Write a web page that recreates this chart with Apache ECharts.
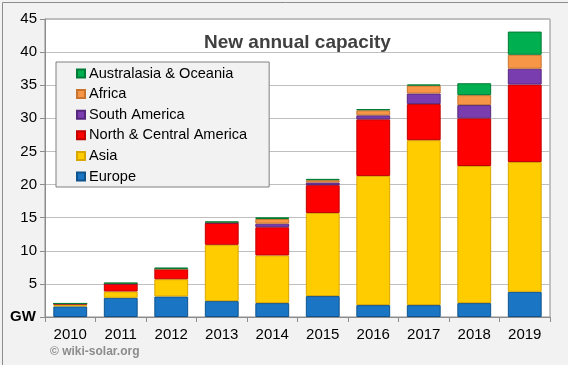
<!DOCTYPE html>
<html>
<head>
<meta charset="utf-8">
<script src="https://cdn.jsdelivr.net/npm/echarts@6/dist/echarts.min.js"></script>
<style>
  html, body { margin: 0; padding: 0; background: #f2f2f2; }
  #chart { width: 568px; height: 365px; }
</style>
</head>
<body>
<div id="chart"></div>
<script>
// 数据（GW，从图上读出）
const years = ['2010', '2011', '2012', '2013', '2014', '2015', '2016', '2017', '2018', '2019']
const europe = [1.6, 2.9, 3.1, 2.4, 2.1, 3.16, 1.8, 1.8, 2.1, 3.8]
const asia = [0.25, 0.95, 2.6, 8.5, 7.2, 12.55, 19.5, 24.9, 20.7, 19.6]
const northCentralAmerica = [0.15, 1.17, 1.5, 3.3, 4.25, 4.2, 8.55, 5.45, 7.2, 11.7]
const southAmerica = [0, 0.02, 0.02, 0.05, 0.55, 0.4, 0.6, 1.6, 2.0, 2.4]
const africa = [0.02, 0.03, 0.05, 0.05, 0.7, 0.35, 0.76, 1.2, 1.5, 2.1]
const australasia = [0.05, 0.1, 0.2, 0.1, 0.25, 0.2, 0.2, 0.15, 1.8, 3.5]

const chart = echarts.init(document.getElementById('chart'))

function makeSeries (name, data, color, border) {
  return {
    name: name,
    type: 'bar',
    stack: 'total',
    barCategoryGap: '33%',
    data: data,
    itemStyle: {
      color: color,
      borderColor: border,
      borderWidth: 1
    }
  }
}

const option = {
  animation: false,
  backgroundColor: '#f2f2f2',
  title: {
    text: 'New annual capacity',
    left: 199,
    top: 28,
    textStyle: {
      fontFamily: 'Liberation Sans, Arial',
      fontSize: 19,
      fontWeight: 'bold',
      color: '#404040'
    }
  },
  grid: {
    left: 45,
    right: 18,
    top: 19,
    bottom: 48,
    show: true,
    backgroundColor: '#ffffff',
    borderColor: '#8c8c8c',
    borderWidth: 1
  },
  legend: {
    orient: 'vertical',
    left: 56,
    top: 62,
    data: ['Australasia & Oceania', 'Africa', 'South America', 'North & Central America', 'Asia', 'Europe'],
    icon: 'rect',
    itemWidth: 8,
    itemHeight: 8,
    itemGap: 5.6,
    padding: [4, 22, 3, 20],
    backgroundColor: '#f2f2f2',
    borderColor: '#808080',
    borderWidth: 1,
    textStyle: {
      fontFamily: 'Liberation Sans, Arial',
      fontSize: 14.6,
      color: '#000',
      padding: [0, 0, 0, -1]
    }
  },
  xAxis: {
    type: 'category',
    data: years,
    axisLine: { lineStyle: { color: '#8c8c8c' } },
    axisTick: { show: true, length: 5, lineStyle: { color: '#8c8c8c' } },
    axisLabel: {
      margin: 10,
      fontFamily: 'Liberation Sans, Arial',
      fontSize: 15,
      color: '#000'
    }
  },
  yAxis: {
    type: 'value',
    min: 0,
    max: 45,
    interval: 5,
    axisLine: { show: true, lineStyle: { color: '#8c8c8c' } },
    axisTick: { show: true, length: 5, lineStyle: { color: '#8c8c8c' } },
    splitLine: { lineStyle: { color: '#bfbfbf' } },
    axisLabel: {
      margin: 8,
      fontFamily: 'Liberation Sans, Arial',
      fontSize: 15,
      color: '#000',
      formatter: function (v) { return v === 0 ? '' : v }
    }
  },
  graphic: [
    {
      type: 'text',
      left: 10,
      top: 309,
      style: {
        text: 'GW',
        font: 'bold 15px "Liberation Sans", Arial',
        fill: '#000'
      }
    },
    {
      type: 'text',
      left: 50,
      top: 346,
      style: {
        text: '© wiki-solar.org',
        font: 'bold 12px "Liberation Sans", Arial',
        fill: '#8c8c8c'
      }
    },
    {
      type: 'rect',
      left: 0,
      top: 0,
      shape: { width: 567, height: 364 },
      style: { fill: 'none', stroke: '#8c8c8c', lineWidth: 1 },
      silent: true
    }
  ],
  series: [
    makeSeries('Europe', europe, '#1a75c4', '#10528c'),
    makeSeries('Asia', asia, '#ffcc00', '#d9a800'),
    makeSeries('North & Central America', northCentralAmerica, '#ff0000', '#c00000'),
    makeSeries('South America', southAmerica, '#7a3db0', '#55267d'),
    makeSeries('Africa', africa, '#f79646', '#c8742e'),
    makeSeries('Australasia & Oceania', australasia, '#00b050', '#007a35')
  ]
}

chart.setOption(option)
</script>
</body>
</html>
